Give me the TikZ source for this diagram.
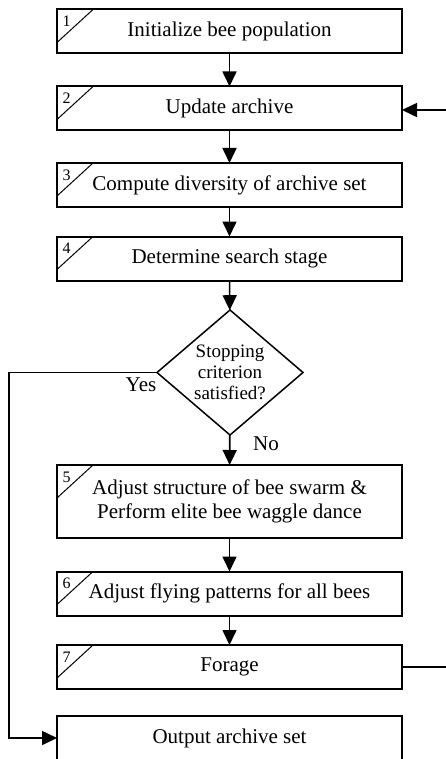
\documentclass[tikz,border=0pt]{standalone}
\usepackage{fontspec}
\setmainfont{Liberation Serif}
\usetikzlibrary{shapes.geometric,arrows.meta}

\begin{document}
\begin{tikzpicture}[x=1pt,y=-1pt,>={Triangle[length=15pt,width=14pt]}]

        \clip (0,0) rectangle (446,759);

        \begin{scope}[every node/.style={rectangle,draw,line width=2pt,outer sep=0pt,inner sep=0pt,
            minimum width=345pt,minimum height=44pt,align=center,font=\fontsize{21}{24}\selectfont}]
          \node (1)  at (229.5,31.5)  {Initialize bee population};
          \node (2)  at (229.5,108.5) {Update archive};
          \node (3)  at (229.5,185)   {Compute diversity of archive set};
          \node (4)  at (229.5,258.5) {Determine search stage};
          \node[minimum height=73pt] (5)  at (229.5,501.5) {Adjust structure of bee swarm \&\\Perform elite bee waggle dance};
          \node (6)  at (229.5,593.5) {Adjust flying patterns for all bees};
          \node (7)  at (229.5,667)   {Forage};
          \node (8)  at (229.5,738)   {Output archive set};
        \end{scope}

        \node[diamond,draw,line width=1.5pt,aspect=1.17,inner sep=0pt,outer sep=0pt,
          minimum width=146pt,minimum height=125pt,align=center,
          font=\fontsize{19}{21}\selectfont] (stop) at (230,372.5) {Stopping\\criterion\\satisfied?};

        % step numbers in the corners
        \foreach \n in {1,...,7} {
          \draw[line width=1pt] ([yshift=-33pt]\n.north west) -- ([xshift=36pt]\n.north west);
          \node[font=\fontsize{16}{16}\selectfont] at ([xshift=9.5pt,yshift=-12pt]\n.north west) {\n};
        }

        \begin{scope}[every edge/.style={draw,->,line width=1.6pt}]
          \path (1)  edge (2);
          \path (2)  edge (3);
          \path (3)  edge (4);
          \path (4)  edge (stop);
          \path (stop)  edge (5);
          \path (5)  edge (6);
          \path (6)  edge (7);
        \end{scope}

        \draw[->,line width=1.6pt] (7.east) -- ++(60,0) |- ([yshift=-1.5pt]2.east);
        \draw[->,line width=1.6pt] (stop.west) -- ++(-148,0) |- (8.west);

        \begin{scope}[every node/.style={font=\fontsize{21}{24}\selectfont}]
          \node (yes) at (141,385) {Yes};
          \node (no)  at (266,444) {No};
        \end{scope}

      \end{tikzpicture}
\end{document}
